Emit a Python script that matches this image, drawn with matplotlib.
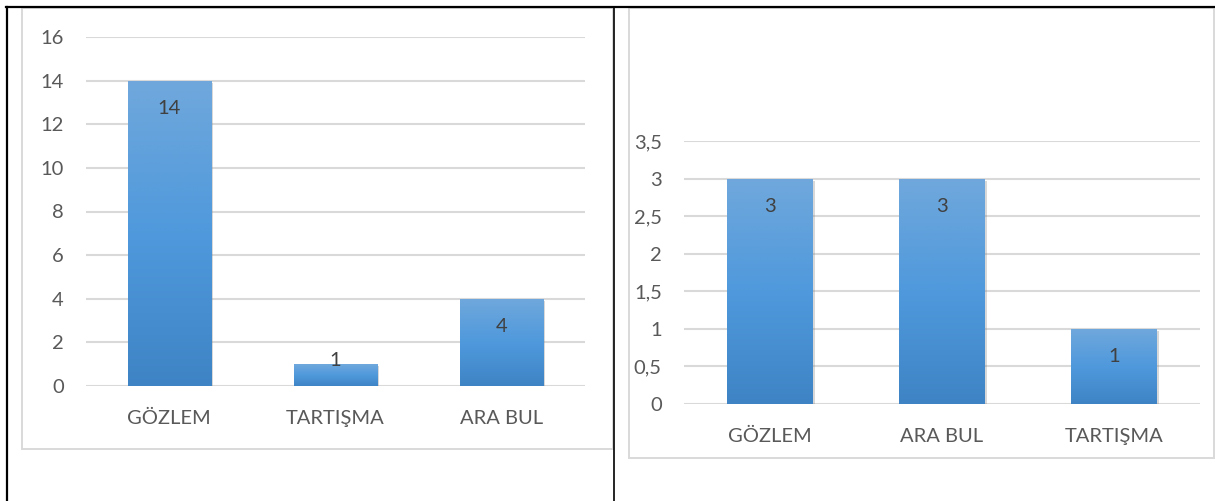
import numpy as np
import matplotlib
matplotlib.use("Agg")
import matplotlib.pyplot as plt
from matplotlib.lines import Line2D
from matplotlib.patches import Rectangle
from matplotlib.colors import LinearSegmentedColormap
import matplotlib.patheffects as pe

plt.rcParams['font.family'] = ['Lato', 'DejaVu Sans']

# ---- data ----
left_categories = ["GÖZLEM", "TARTIŞMA", "ARA BUL"]
left_values = [14, 1, 4]
left_ticks = [0, 2, 4, 6, 8, 10, 12, 14, 16]
left_ticklabels = ["0", "2", "4", "6", "8", "10", "12", "14", "16"]

right_categories = ["GÖZLEM", "ARA BUL", "TARTIŞMA"]
right_values = [3, 3, 1]
right_ticks = [0, 0.5, 1, 1.5, 2, 2.5, 3, 3.5]
right_ticklabels = ["0", "0,5", "1", "1,5", "2", "2,5", "3", "3,5"]

W, H = 1215, 501
fig = plt.figure(figsize=(W / 100, H / 100), dpi=100)
fig.patch.set_facecolor("white")

def fx(px):
    return px / W

def fy(py):
    return 1 - py / H

# table borders (black)
fig.add_artist(Line2D([fx(6), fx(1215)], [fy(7), fy(7)], color="black", lw=1.6))
fig.add_artist(Line2D([fx(6.5), fx(6.5)], [fy(7), fy(501)], color="black", lw=1.6))
fig.add_artist(Line2D([fx(614), fx(614)], [fy(7), fy(501)], color="black", lw=1.2))

# chart frames (light gray)
def frame(x0, y0, x1, y1):
    fig.add_artist(Rectangle((fx(x0), fy(y1)), fx(x1) - fx(x0), fy(y0) - fy(y1),
                             fill=False, edgecolor="#d9d9d9", lw=1.4))

frame(22, 8, 613, 449)
frame(629, 8, 1214, 458)

cmap = LinearSegmentedColormap.from_list("bar", ["#3e84c5", "#4f99dc", "#70a8dc"])
grad = np.linspace(0, 1, 256).reshape(-1, 1)

text_color = "#595959"
label_color = "#404040"
FS = 14.5

def draw_chart(rect, cats, vals, ticks, ticklabels, ylim, xpad):
    ax = fig.add_axes(rect)
    x = np.arange(len(cats))
    bars = ax.bar(x, vals, width=0.5, color="#5b9bd5", zorder=3,
                  path_effects=[pe.SimplePatchShadow(offset=(1.5, -1.5), shadow_rgbFace="#808080", alpha=0.3),
                                pe.Normal()])
    for b in bars:
        bx, by = b.get_x(), b.get_y()
        bw, bh = b.get_width(), b.get_height()
        im = ax.imshow(grad, cmap=cmap, origin="lower", aspect="auto",
                       extent=(bx, bx + bw, by, by + bh), zorder=4,
                       interpolation="bicubic")
        im.set_clip_path(b)
    ax.set_xlim(-0.5, len(cats) - 0.5)
    ax.set_ylim(*ylim)
    ax.set_yticks(ticks)
    ax.set_yticklabels(ticklabels)
    ax.set_xticks(x)
    ax.set_xticklabels(cats)
    ax.tick_params(axis="y", length=0, pad=16, labelsize=FS, labelcolor=text_color)
    ax.tick_params(axis="x", length=0, pad=xpad, labelsize=FS, labelcolor=text_color)
    for s in ax.spines.values():
        s.set_visible(False)
    ax.grid(axis="y", color="#d9d9d9", lw=1.5, zorder=0)
    ax.set_axisbelow(True)
    ax.patch.set_alpha(0)
    # value labels
    ppu = rect[3] * H / (ylim[1] - ylim[0])  # pixels per unit
    for xi, v in zip(x, vals):
        bar_px = v * ppu
        if bar_px < 40:
            off = 3
        else:
            off = -20
        ax.annotate(f"{v}", (xi, v), xytext=(0, off), textcoords="offset points",
                    ha="center", va="center", fontsize=FS, color=label_color, zorder=6)
    return ax

# left chart: x 86..585 px, y 37..386 px
draw_chart([fx(86), fy(386), fx(585) - fx(86), fy(37) - fy(386)],
           left_categories, left_values, left_ticks, left_ticklabels, (0, 16), 17.5)

# right chart: x 684..1200 px, y 141..404 px
draw_chart([fx(684), fy(404), fx(1200) - fx(684), fy(141) - fy(404)],
           right_categories, right_values, right_ticks, right_ticklabels, (0, 3.5), 17.5)

fig.savefig("out.png", dpi=100, facecolor="white")
